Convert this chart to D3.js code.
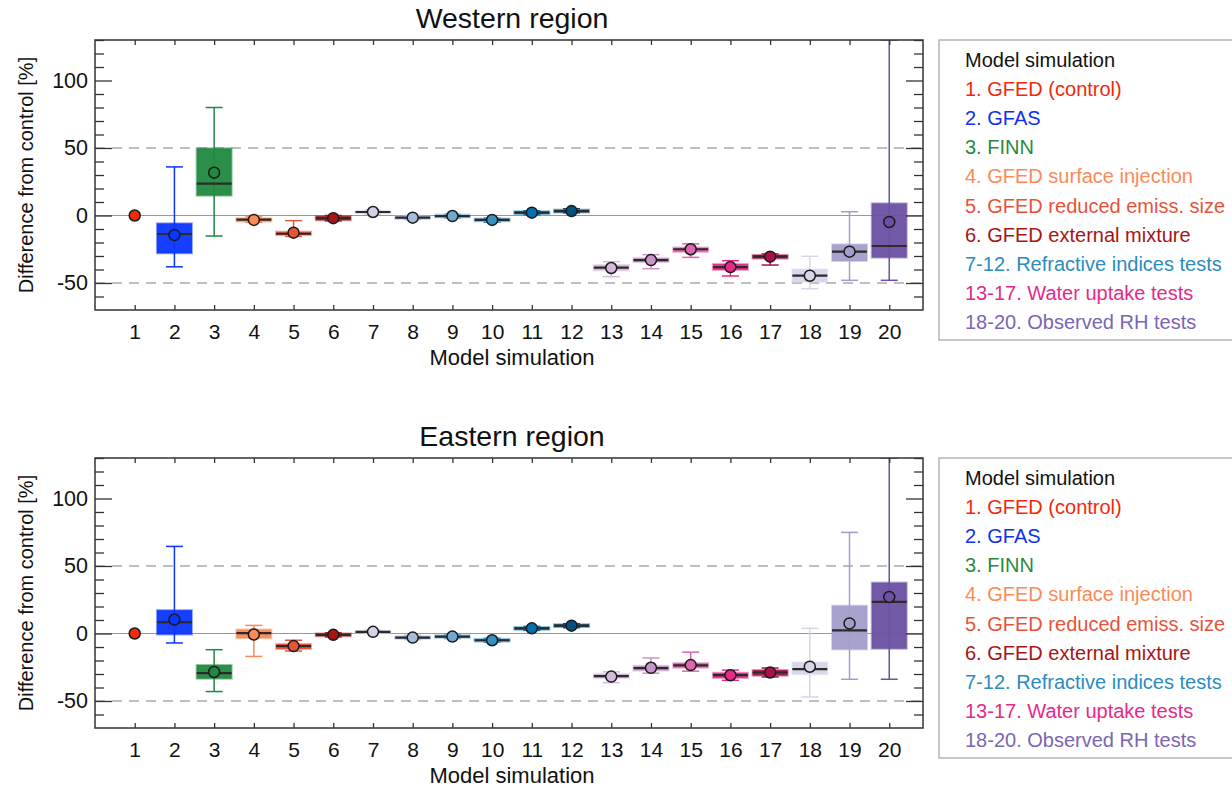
<!DOCTYPE html>
<html>
<head>
<meta charset="utf-8">
<script src="https://cdn.jsdelivr.net/npm/d3@7"></script>
<style>
  body { margin: 0; background: #fff; }
  svg { display: block; font-family: "Liberation Sans", Arial, Helvetica, sans-serif; }
</style>
</head>
<body>
<svg id="chart" width="1232" height="788"></svg>
<script>
// ---- Data ----
const categories = [1,2,3,4,5,6,7,8,9,10,11,12,13,14,15,16,17,18,19,20];
const yTickLabels = [-50, 0, 50, 100];

// Western region
const westMean   = [0, -14.5, 31.7, -3.3, -12.7, -2, 2.6, -1.6, -0.4, -3.3, 2.1, 3.3, -38.9, -33, -25, -38.2, -30.5, -44.6, -26.8, -4.8];
const westMedian = [0, -13.7, 23.6, -3, -13.5, -2, 2.6, -1.6, -0.4, -3.3, 2.1, 3.3, -38.6, -33, -25, -38.2, -30.5, -44.6, -26.8, -22.6];
const westQ1     = [0, -28, 14.7, -4.5, -14.5, -3.5, 1.5, -2.6, -1.4, -4.3, 1.1, 2.3, -40.7, -34.5, -27, -40.3, -31.9, -49.2, -33.7, -31.2];
const westQ3     = [0, -5.8, 49.8, -2, -12, -0.5, 3.5, -0.6, 0.6, -2.3, 3.1, 4.3, -36.6, -31.5, -23.7, -35.9, -29.2, -39.9, -21.4, 9];
const westLow    = [0, -38, -15.2, -5, -15.5, -4, 1, -3, -2, -5, 0.5, 2, -45.3, -39.4, -31, -44.8, -36.7, -54.2, -48, -48];
const westHigh   = [0, 36, 80, -1, -3.8, 0, 4, 0, 1, -2, 3.5, 5, -34.2, -29, -21, -33.5, -28.5, -30.2, 2.8, 130];

// Eastern region
const eastMean   = [0, 10.3, -28.5, -0.75, -9.3, -1, 1.25, -3, -2.3, -5, 3.8, 5.8, -31.9, -25.4, -23.4, -30.9, -28.9, -24.6, 7.5, 27.1];
const eastMedian = [0, 8.5, -29.3, 0.25, -9.3, -1, 1.25, -3, -2.3, -5, 3.8, 5.8, -31.6, -25.6, -23.6, -30.9, -28.9, -26.4, 2.3, 23.4];
const eastQ1     = [0, -0.75, -33.5, -3.5, -11.5, -2, 0.5, -4, -3.3, -6, 2.8, 4.8, -33, -27.4, -25.4, -32.9, -31.2, -30.2, -11.8, -11.3];
const eastQ3     = [0, 17.3, -23.3, 3, -7.75, 0, 2, -2, -1.3, -4, 4.8, 6.8, -30, -23.9, -21.9, -29.1, -27.1, -21.4, 20.6, 37.7];
const eastLow    = [0, -7, -43, -17, -13, -2.5, 0, -4.5, -3.8, -6.5, 2.3, 4.3, -36.4, -29.4, -27.9, -34.7, -32.2, -47, -33.9, -33.9];
const eastHigh   = [0, 64.5, -12, 6, -5, 0.5, 2.5, -1.5, -0.8, -3.5, 5.3, 7.3, -28.4, -18.1, -13.8, -27.1, -25.6, 3.8, 74.9, 130];

const seriesColors = ["#f4280a", "#0a35ff", "#20893f", "#fb8a58", "#e6533a", "#a81414",
  "#d3d3e8", "#a5bddb", "#74a9cf", "#3690c0", "#0570b0", "#045082",
  "#d4b9da", "#c994c7", "#df65b0", "#e7298a", "#a8104c",
  "#d6d5ea", "#a29ecb", "#6a51a3"];

const legendTitle = "Model simulation";
const legendLabels = ["1. GFED (control)", "2. GFAS", "3. FINN", "4. GFED surface injection",
  "5. GFED reduced emiss. size", "6. GFED external mixture", "7-12. Refractive indices tests",
  "13-17. Water uptake tests", "18-20. Observed RH tests"];
const legendColors = ["#f4280a", "#1030f0", "#2a8a3e", "#fb8a58", "#e6533a", "#a81414", "#2b8cbe", "#e7298a", "#7a66b4"];

// ---- Drawing ----
const svg = d3.select("#chart");
const left = 95, right = 923, plotH = 270;

function drawPanel(top, title, mean, median, q1, q3, low, high) {
  const g = svg.append("g");
  const x = d3.scaleLinear().domain([0, 20.85]).range([left, right]);
  const y = d3.scaleLinear().domain([-70, 130]).range([top + plotH, top]);

  const clipId = "clip" + top;
  svg.append("clipPath").attr("id", clipId).append("rect")
    .attr("x", left).attr("y", top).attr("width", right - left).attr("height", plotH);

  // reference lines
  g.selectAll("line.dash").data([-50, 50]).join("line")
    .attr("x1", left).attr("x2", right).attr("y1", d => y(d)).attr("y2", d => y(d))
    .attr("stroke", "#aaa").attr("stroke-width", 1.3).attr("stroke-dasharray", "10,7");
  g.append("line").attr("x1", left).attr("x2", right).attr("y1", y(0)).attr("y2", y(0))
    .attr("stroke", "#999").attr("stroke-width", 1.2);

  const marks = g.append("g").attr("clip-path", `url(#${clipId})`);
  const bw = 35, cw = 17;
  const items = categories.map((c, i) => ({c, i}));

  // whiskers
  marks.selectAll("line.wh").data(items).join("line")
    .attr("x1", d => x(d.c)).attr("x2", d => x(d.c))
    .attr("y1", d => y(low[d.i])).attr("y2", d => y(high[d.i]))
    .attr("stroke", d => seriesColors[d.i]).attr("stroke-width", 1.5);
  ["low", "high"].forEach(k => {
    const arr = k === "low" ? low : high;
    marks.selectAll("line.cap" + k).data(items).join("line")
      .attr("x1", d => x(d.c) - cw / 2).attr("x2", d => x(d.c) + cw / 2)
      .attr("y1", d => y(arr[d.i])).attr("y2", d => y(arr[d.i]))
      .attr("stroke", d => seriesColors[d.i]).attr("stroke-width", 1.5)
      .attr("opacity", d => d.i === 0 ? 0 : 1);
  });
  // boxes
  marks.selectAll("rect.box").data(items.filter(d => d.i > 0)).join("rect")
    .attr("x", d => x(d.c) - bw / 2).attr("width", bw)
    .attr("y", d => y(q3[d.i])).attr("height", d => Math.max(2, y(q1[d.i]) - y(q3[d.i])))
    .attr("fill", d => seriesColors[d.i]).attr("fill-opacity", 0.95)
    .attr("stroke", d => seriesColors[d.i]).attr("stroke-opacity", 0.45).attr("stroke-width", 2);
  // medians
  marks.selectAll("line.med").data(items.filter(d => d.i > 0)).join("line")
    .attr("x1", d => x(d.c) - bw / 2).attr("x2", d => x(d.c) + bw / 2)
    .attr("y1", d => y(median[d.i])).attr("y2", d => y(median[d.i]))
    .attr("stroke", "#2b2b2b").attr("stroke-width", 2.2);
  // means
  marks.selectAll("circle.mean").data(items).join("circle")
    .attr("cx", d => x(d.c)).attr("cy", d => y(mean[d.i])).attr("r", 5.5)
    .attr("fill", d => seriesColors[d.i]).attr("stroke", "#1a1a1a").attr("stroke-width", 1.5);

  // axes
  const bottomAx = d3.axisBottom(x).tickValues(categories).tickSize(-5).tickPadding(14).tickFormat(d3.format("d"));
  const ga = g.append("g").attr("transform", `translate(0,${top + plotH})`).call(bottomAx);
  ga.select(".domain").remove();
  ga.selectAll("text").attr("font-size", 21).attr("fill", "#111");
  ga.selectAll("line").attr("stroke", "#333").attr("stroke-width", 1.3);

  const topAx = d3.axisTop(x).tickValues(categories).tickSize(-5).tickFormat("");
  const gt = g.append("g").attr("transform", `translate(0,${top})`).call(topAx);
  gt.select(".domain").remove();
  gt.selectAll("line").attr("stroke", "#333").attr("stroke-width", 1.3);

  const minorVals = d3.range(-60, 131, 10).filter(v => v % 50 !== 0);
  [["L", left, d3.axisLeft], ["R", right, d3.axisRight]].forEach(([side, px, fn]) => {
    const gm = g.append("g").attr("transform", `translate(${px},0)`)
      .call(fn(y).tickValues(minorVals).tickSize(-9).tickFormat(""));
    gm.select(".domain").remove();
    gm.selectAll("line").attr("stroke", "#333").attr("stroke-width", 1.3);
    const gM = g.append("g").attr("transform", `translate(${px},0)`)
      .call(fn(y).tickValues(yTickLabels).tickSize(-17).tickPadding(7)
        .tickFormat(side === "L" ? d3.format("d") : ""));
    gM.select(".domain").remove();
    gM.selectAll("line").attr("stroke", "#333").attr("stroke-width", 1.3);
    gM.selectAll("text").attr("font-size", 21.5).attr("fill", "#111").text(d => side === "L" ? (d < 0 ? "-" + Math.abs(d) : d) : "");
  });

  // frame
  g.append("rect").attr("x", left).attr("y", top).attr("width", right - left).attr("height", plotH)
    .attr("fill", "none").attr("stroke", "#333").attr("stroke-width", 1.5);

  // title & labels
  g.append("text").attr("x", (left + right) / 2 + 3).attr("y", top - 12)
    .attr("text-anchor", "middle").attr("font-size", 28.5).attr("fill", "#111").text(title);
  g.append("text").attr("x", (left + right) / 2 + 3).attr("y", top + plotH + 55)
    .attr("text-anchor", "middle").attr("font-size", 22).attr("fill", "#111").text("Model simulation");
  g.append("text").attr("transform", `translate(33,${top + plotH / 2}) rotate(-90)`)
    .attr("text-anchor", "middle").attr("font-size", 20).attr("fill", "#111").text("Difference from control [%]");

  // legend
  const lg = g.append("g");
  lg.append("rect").attr("x", 939).attr("y", top).attr("width", 310).attr("height", 300)
    .attr("fill", "#fff").attr("stroke", "#aaa").attr("stroke-width", 1.3);
  const rows = [legendTitle].concat(legendLabels);
  const rowColors = ["#111"].concat(legendColors);
  lg.selectAll("text").data(rows).join("text")
    .attr("x", 965).attr("y", (d, i) => top + 27 + i * 29.1)
    .attr("font-size", 20).attr("fill", (d, i) => rowColors[i]).text(d => d);
}

drawPanel(40, "Western region", westMean, westMedian, westQ1, westQ3, westLow, westHigh);
drawPanel(458, "Eastern region", eastMean, eastMedian, eastQ1, eastQ3, eastLow, eastHigh);
</script>
</body>
</html>
